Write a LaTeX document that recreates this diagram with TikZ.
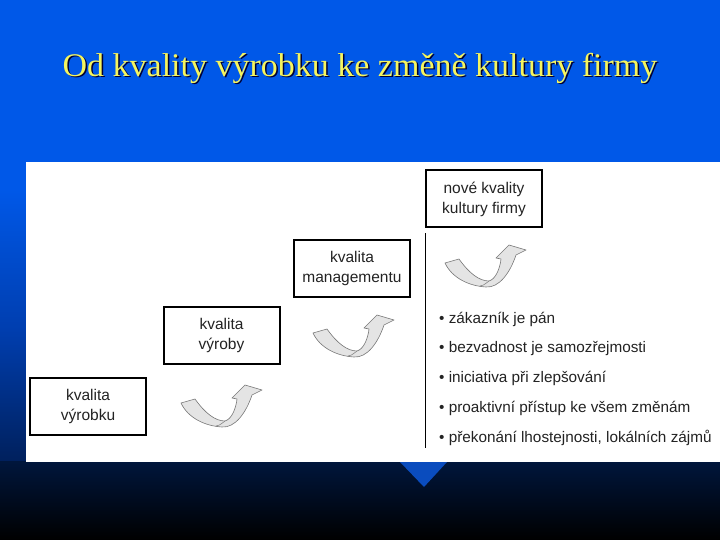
\documentclass[tikz,border=0pt]{standalone}
\usepackage{fontspec}
\setmainfont{Liberation Serif}
\newfontfamily\arialf{Liberation Sans}
\definecolor{blueT}{RGB}{0,88,232}
\definecolor{blueM}{RGB}{0,62,175}
\definecolor{blueD}{RGB}{0,32,92}
\definecolor{navyD}{RGB}{0,22,60}
\definecolor{triB}{RGB}{10,76,190}
\definecolor{titleY}{RGB}{245,245,95}
\definecolor{txtG}{RGB}{35,35,35}
\definecolor{arrG}{RGB}{120,120,120}
\definecolor{arrF}{RGB}{228,228,228}
\tikzset{
  levelbox/.style={draw=black, line width=2pt, fill=white, minimum width=116pt, minimum height=57pt,
     inner sep=2pt, align=center, font=\arialf\fontsize{15.5}{20}\selectfont, text=txtG},
  bullettext/.style={anchor=west, inner sep=0pt, font=\arialf\fontsize{15.3}{17}\selectfont, text=txtG},
  titletext/.style={font=\fontsize{33}{36}\selectfont, xscale=1.03},
  ribbon/.style={draw=arrG, line width=0.6pt, fill=arrF, line join=round},
  crease/.style={draw=arrG, line width=0.5pt}
}
\newcommand{\ribbonarrow}[2]{%
  \begin{scope}[shift={(#1,#2)}]
    \path[ribbon] (1,20) -- (15,16) .. controls (25,30) and (35,38) .. (45,38)
      .. controls (52,36) and (56,25) .. (57,16) -- (52,15) -- (65,2) -- (82,7) -- (72,12)
      .. controls (66,30) and (55,45) .. (42,44) .. controls (25,43) and (8,35) .. cycle;
    \path[crease] (45,38) .. controls (40,42) and (38,43) .. (36,43);
  \end{scope}}
\begin{document}
\begin{tikzpicture}[x=1pt,y=-1pt]
\useasboundingbox (0,0) rectangle (720,540);
% background
\fill[blueT] (0,0) rectangle (720,190);
\shade[top color=blueT, bottom color=blueM] (0,189.5) rectangle (720,330);
\shade[top color=blueM, bottom color=blueD] (0,329.5) rectangle (720,462);
\shade[top color=navyD, bottom color=black] (0,461.5) rectangle (720,540);
% title
\node[titletext, text=black!80!blue] (titleshadow) at (361.5,69.5) {Od kvality výrobku ke změně kultury firmy};
\node[titletext, text=titleY] (title) at (360,68) {Od kvality výrobku ke změně kultury firmy};
% white panel
\fill[white] (26,162) rectangle (720,462);
\fill[triB] (400,462) -- (447,462) -- (424,487) -- cycle;
% boxes
\node[levelbox] (b1) at (88,406) {kvalita\\výrobku};
\node[levelbox] (b2) at (221.5,335.5) {kvalita\\výroby};
\node[levelbox] (b3) at (352,268) {kvalita\\managementu};
\node[levelbox] (b4) at (484,199) {nové kvality\\kultury firmy};
% arrows
\ribbonarrow{180}{383}
\ribbonarrow{312}{313}
\ribbonarrow{444}{243}
% vertical line
\coordinate (vtop) at (425,233);
\coordinate (vbot) at (425,448);
\draw[black, line width=0.8pt] (vtop) -- (vbot);
% bullets
\node[bullettext] (l1) at (439,319) {• zákazník je pán};
\node[bullettext] (l2) at (439,348.5) {• bezvadnost je samozřejmosti};
\node[bullettext] (l3) at (439,378) {• iniciativa při zlepšování};
\node[bullettext] (l4) at (439,408) {• proaktivní přístup ke všem změnám};
\node[bullettext] (l5) at (439,438) {• překonání lhostejnosti, lokálních zájmů};
\end{tikzpicture}
\end{document}
